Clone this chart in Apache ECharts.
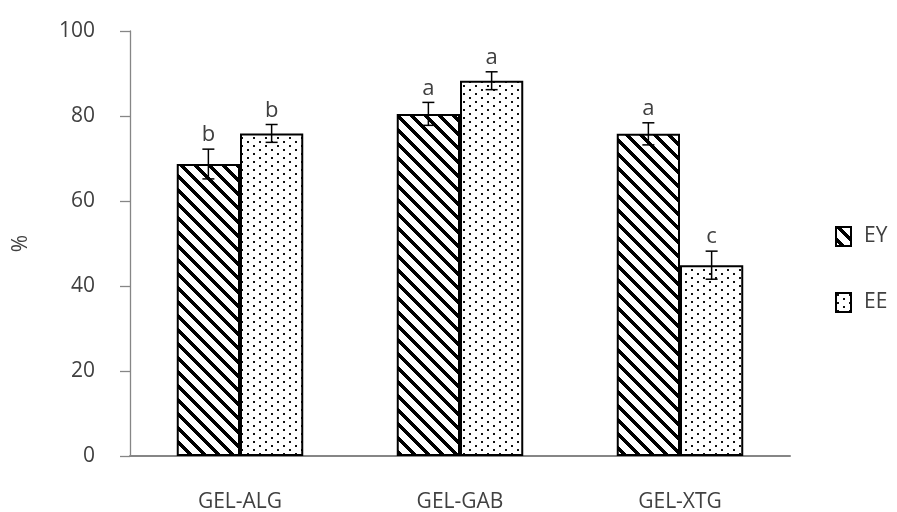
<!DOCTYPE html>
<html>
<head>
<meta charset="utf-8">
<script src="https://cdn.jsdelivr.net/npm/echarts@6/dist/echarts.min.js"></script>
<style>html,body{margin:0;padding:0;background:#fff}#c{width:897px;height:512px}</style>
</head>
<body>
<div id="c"></div>
<script>
var categories = ['GEL-ALG', 'GEL-GAB', 'GEL-XTG'];
var seriesNames = ['EY', 'EE'];
var eyValues = [68.7, 80.5, 75.8];
var eeValues = [75.9, 88.3, 44.9];
var eyErrors = [3.5, 2.7, 2.6];
var eeErrors = [2.1, 2.1, 3.3];
var eyLetters = ['b', 'a', 'a'];
var eeLetters = ['b', 'a', 'c'];
var yTicks = [0, 20, 40, 60, 80, 100];

function stripePattern() {
  var P = 14, w = 5;
  var c = document.createElement('canvas');
  c.width = P; c.height = P;
  var ctx = c.getContext('2d');
  ctx.fillStyle = '#fff'; ctx.fillRect(0, 0, P, P);
  ctx.fillStyle = '#000';
  for (var y = 0; y < P; y++) for (var x = 0; x < P; x++) {
    var d = (((x - y) % P) + P) % P;
    if (d < w) ctx.fillRect(x, y, 1, 1);
  }
  return c;
}
function dotPattern() {
  var W = 12, H = 8;
  var c = document.createElement('canvas');
  c.width = W; c.height = H;
  var ctx = c.getContext('2d');
  ctx.fillStyle = '#fff'; ctx.fillRect(0, 0, W, H);
  ctx.fillStyle = '#111';
  ctx.fillRect(1, 1, 2, 2);
  ctx.fillRect(7, 5, 2, 2);
  return c;
}
var eyFill = { image: stripePattern(), repeat: 'repeat' };
var eeFill = { image: dotPattern(), repeat: 'repeat' };

var gapRatio = 0.425;
function errSeries(values, errors, letters, side) {
  var data = values.map(function (v, i) { return [i, v, errors[i], letters[i]]; });
  return {
    type: 'custom',
    z: 10,
    data: data,
    silent: true,
    renderItem: function (params, api) {
      var i = api.value(0), v = api.value(1), e = api.value(2);
      var band = api.size([1, 0])[0];
      var off = band * (1 - gapRatio) / 4 * side;
      var top = api.coord([i, v + e]);
      var bot = api.coord([i, v - e]);
      var x = top[0] + off;
      var cap = 6;
      var st = { stroke: '#000', lineWidth: 1.5 };
      return {
        type: 'group',
        children: [
          { type: 'line', shape: { x1: x, y1: top[1], x2: x, y2: bot[1] }, style: st },
          { type: 'line', shape: { x1: x - cap, y1: top[1], x2: x + cap, y2: top[1] }, style: st },
          { type: 'line', shape: { x1: x - cap, y1: bot[1], x2: x + cap, y2: bot[1] }, style: st },
          { type: 'text', style: { text: letters[i], x: x, y: top[1] - 3, align: 'center', verticalAlign: 'bottom',
              fill: '#404040', font: '22px "Open Sans"' } }
        ]
      };
    }
  };
}

var chart = echarts.init(document.getElementById('c'), null, { renderer: 'canvas' });
chart.setOption({
  animation: false,
  backgroundColor: '#fff',
  grid: { left: 130, right: 107, top: 31, bottom: 56, containLabel: false, outerBoundsMode: 'none' },
  legend: {
    data: seriesNames,
    orient: 'vertical',
    left: 835,
    top: 226,
    padding: 0,
    itemWidth: 15,
    itemHeight: 19,
    itemGap: 45,
    icon: 'rect',
    textStyle: { fontFamily: 'Open Sans', fontSize: 21, color: '#404040', padding: [0, 0, 0, 8] }
  },
  xAxis: {
    type: 'category',
    data: categories,
    axisLine: { show: true, lineStyle: { color: '#868686', width: 2 } },
    axisTick: { show: false },
    axisLabel: { fontFamily: 'Open Sans', fontSize: 21, color: '#404040', margin: 36 }
  },
  yAxis: {
    type: 'value',
    min: 0, max: 100, interval: 20,
    name: '%',
    nameLocation: 'middle',
    nameGap: 98,
    nameRotate: 90,
    nameTextStyle: { fontFamily: 'Open Sans', fontSize: 21, color: '#404040' },
    axisLine: { show: true, lineStyle: { color: '#868686', width: 1.3 } },
    axisTick: { show: true, inside: false, length: 10, lineStyle: { color: '#868686', width: 1.3 } },
    splitLine: { show: false },
    axisLabel: { fontFamily: 'Open Sans', fontSize: 21, color: '#404040', margin: 35,
      formatter: function (v) { return yTicks.indexOf(v) >= 0 ? String(v) : ''; } }
  },
  series: [
    { name: 'EY', type: 'bar', data: eyValues, barGap: '0%', barCategoryGap: (gapRatio * 100) + '%',
      itemStyle: { color: eyFill, borderColor: '#000', borderWidth: 2 } },
    { name: 'EE', type: 'bar', data: eeValues, barGap: '0%', barCategoryGap: (gapRatio * 100) + '%',
      itemStyle: { color: eeFill, borderColor: '#000', borderWidth: 2 } },
    errSeries(eyValues, eyErrors, eyLetters, -1),
    errSeries(eeValues, eeErrors, eeLetters, 1)
  ]
});
</script>
</body>
</html>
